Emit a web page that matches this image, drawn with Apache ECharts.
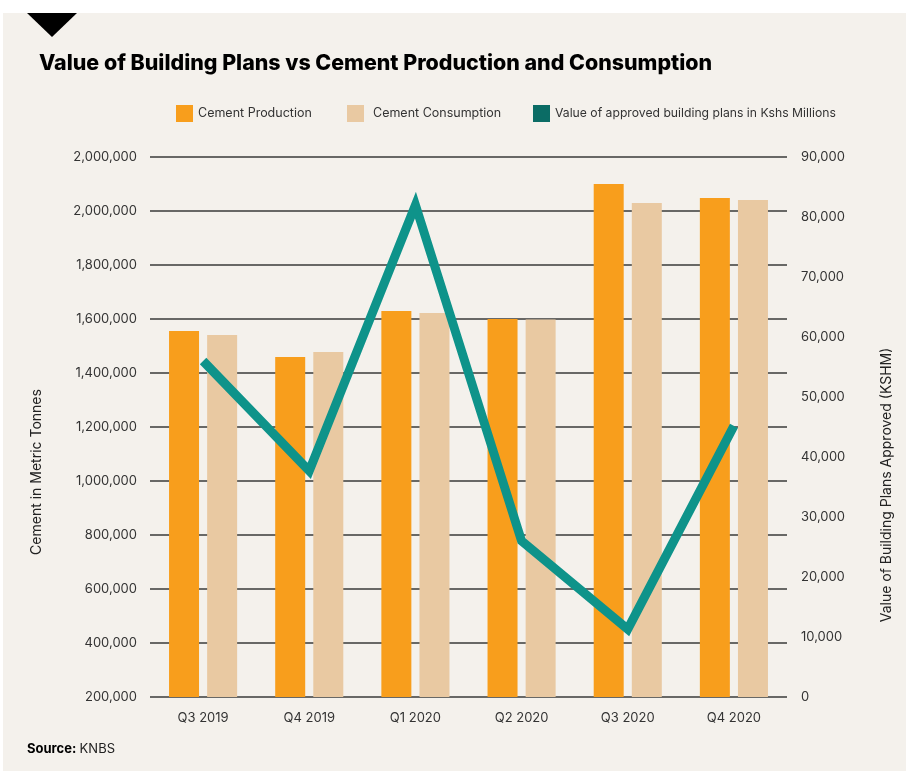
<!DOCTYPE html>
<html>
<head>
<meta charset="utf-8">
<script src="https://cdn.jsdelivr.net/npm/echarts@6/dist/echarts.min.js"></script>
<style>
html,body{margin:0;padding:0;background:#ffffff;}
#chart{width:906px;height:771px;}
</style>
</head>
<body>
<div id="chart"></div>
<script>
const categories = ["Q3 2019", "Q4 2019", "Q1 2020", "Q2 2020", "Q3 2020", "Q4 2020"];
const cementProduction = [1556000, 1459000, 1630000, 1600000, 2100000, 2048000];
const cementConsumption = [1541000, 1478000, 1622000, 1598000, 2030000, 2041000];
const buildingPlans = [56000, 37700, 82000, 26000, 11300, 45200];
const leftTickLabels = ["200,000", "400,000", "600,000", "800,000", "1,000,000", "1,200,000", "1,400,000", "1,600,000", "1,800,000", "2,000,000", "2,000,000"];
const rightTickLabels = ["0", "10,000", "20,000", "30,000", "40,000", "50,000", "60,000", "70,000", "80,000", "90,000"];

const FONT = "Inter";
const chart = echarts.init(document.getElementById('chart'), null, {renderer: 'canvas'});

function legendAt(left, name, color, gap, size) {
  return {
    left: left, top: 100, itemWidth: 17, itemHeight: 17, itemGap: 0,
    icon: 'rect', selectedMode: false,
    textStyle: {fontFamily: FONT, fontSize: size, color: '#333333', padding: [0,0,0,gap]},
    data: [{name: name, itemStyle: {color: color}}]
  };
}

const option = {
  backgroundColor: '#ffffff',
  animation: false,
  graphic: [
    {type: 'rect', shape: {x: 3, y: 13, width: 903, height: 758}, style: {fill: '#f4f1ec'}, z: -10},
    {type: 'polygon', shape: {points: [[27,13],[77,13],[52,37]]}, style: {fill: '#000000'}},
    {type: 'text', left: 39, top: 53, style: {text: 'Value of Building Plans vs Cement Production and Consumption', fontFamily: FONT, fontSize: 21.4, fontWeight: 800, fill: '#000000'}},
    {type: 'text', left: 27, top: 743, style: {
      rich: {b: {fontFamily: FONT, fontSize: 13, fontWeight: 700, fill: '#000'}, n: {fontFamily: FONT, fontSize: 13, fill: '#222'}},
      text: '{b|Source:} {n|KNBS}'}}
  ],
  legend: [
    legendAt(171, 'Cement Production', '#f89e1c', 0, 12.5),
    legendAt(342, 'Cement Consumption', '#e9c9a2', 4, 12.5),
    legendAt(528, 'Value of approved building plans in Kshs Millions', '#0b6c65', 0, 12.2)
  ],
  grid: {left: 150, right: 119, top: 157, bottom: 74, containLabel: false},
  xAxis: {
    type: 'category', data: categories,
    axisLine: {show: false}, axisTick: {show: false},
    axisLabel: {fontFamily: FONT, fontSize: 13, color: '#333333', margin: 15}
  },
  yAxis: [
    {
      type: 'value', min: 200000, max: 2200000, interval: 200000, position: 'left',
      name: 'Cement in Metric Tonnes', nameLocation: 'middle', nameGap: 106, nameRotate: 90,
      nameTextStyle: {fontFamily: FONT, fontSize: 14, color: '#222', padding: [0, 90, 0, 0]},
      axisLine: {show: false}, axisTick: {show: false},
      axisLabel: {fontFamily: FONT, fontSize: 13, color: '#333333', margin: 13,
        formatter: function (v) { return leftTickLabels[Math.round((v - 200000) / 200000)]; }},
      splitLine: {show: true, lineStyle: {color: '#3a3a3a', width: 1.6}}
    },
    {
      type: 'value', min: 0, max: 90000, interval: 10000, position: 'right',
      name: 'Value of Building Plans Approved (KSHM)', nameLocation: 'middle', nameGap: 93, nameRotate: 90,
      nameTextStyle: {fontFamily: FONT, fontSize: 14, color: '#222', padding: [0, 116, 0, 0]},
      axisLine: {show: false}, axisTick: {show: false},
      axisLabel: {fontFamily: FONT, fontSize: 13, color: '#333333', margin: 14,
        formatter: function (v) { return rightTickLabels[Math.round(v / 10000)]; }},
      splitLine: {show: false}
    }
  ],
  series: [
    {name: 'Cement Production', type: 'bar', yAxisIndex: 0, data: cementProduction,
      barWidth: 30, barGap: '27%', itemStyle: {color: '#f89e1c'}},
    {name: 'Cement Consumption', type: 'bar', yAxisIndex: 0, data: cementConsumption,
      barWidth: 30, barGap: '27%', itemStyle: {color: '#e9c9a2'}},
    {name: 'Value of approved building plans in Kshs Millions', type: 'line', yAxisIndex: 1, data: buildingPlans,
      symbol: 'none', lineStyle: {color: '#0e938a', width: 9, cap: 'butt', join: 'miter'},
      itemStyle: {color: '#0b6c65'}, z: 5}
  ]
};
chart.setOption(option);
</script>
</body>
</html>
